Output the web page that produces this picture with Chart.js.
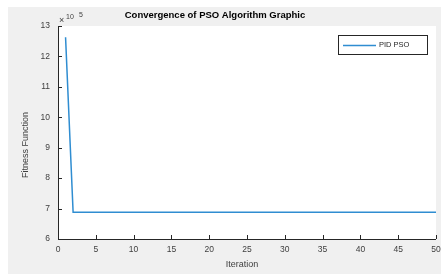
<!DOCTYPE html>
<html>
<head>
<meta charset="utf-8">
<script src="https://cdn.jsdelivr.net/npm/chart.js@4"></script>
<style>
  html, body { margin: 0; padding: 0; background: #fff; }
  #wrap { width: 448px; height: 274px; position: relative; }
</style>
</head>
<body>
<div id="wrap"><canvas id="chart" width="448" height="274"></canvas></div>
<script>
// ---- Data ----
const iterations = [1, 2, 3, 4, 5, 10, 15, 20, 25, 30, 35, 40, 45, 50];
const fitness = [1263000, 688000, 688000, 688000, 688000, 688000, 688000, 688000, 688000, 688000, 688000, 688000, 688000, 688000];
const xTicks = [0, 5, 10, 15, 20, 25, 30, 35, 40, 45, 50];
const yTicks = [6, 7, 8, 9, 10, 11, 12, 13];
const yScaleFactor = 1e5;

const FONT = 'Liberation Sans, Arial, Helvetica, sans-serif';
const LINE_COLOR = '#2f8dd1';

// ---- Figure background, axes, ticks, labels, legend ----
const figurePlugin = {
    id: 'figure',
    beforeDraw(chart) {
        const ctx = chart.ctx;
        const a = chart.chartArea;
        ctx.save();
        ctx.fillStyle = '#ffffff';
        ctx.fillRect(0, 0, chart.width, chart.height);
        ctx.fillStyle = '#f0f0f0';
        ctx.fillRect(8, 7, 433, 267);
        ctx.fillStyle = '#ffffff';
        ctx.fillRect(a.left, a.top, a.right - a.left, a.bottom - a.top);
        ctx.restore();
    },
    afterDraw(chart) {
        const ctx = chart.ctx;
        const a = chart.chartArea;
        const xs = chart.scales.x;
        const ys = chart.scales.y;
        ctx.save();
        ctx.strokeStyle = '#262626';
        ctx.lineWidth = 1;
        ctx.beginPath();
        ctx.moveTo(a.left + 0.5, a.top);
        ctx.lineTo(a.left + 0.5, a.bottom + 0.5);
        ctx.lineTo(a.right, a.bottom + 0.5);
        // inward ticks
        xTicks.forEach(v => {
            const px = Math.round(xs.getPixelForValue(v)) + 0.5;
            ctx.moveTo(px, a.bottom);
            ctx.lineTo(px, a.bottom - 4);
        });
        yTicks.forEach(v => {
            const py = Math.round(ys.getPixelForValue(v * yScaleFactor)) + 0.5;
            ctx.moveTo(a.left, py);
            ctx.lineTo(a.left + 4, py);
        });
        ctx.stroke();

        // exponent label
        ctx.fillStyle = '#404040';
        ctx.font = '9px ' + FONT;
        ctx.textBaseline = 'alphabetic';
        ctx.textAlign = 'left';
        ctx.fillText('\u00d7', 59, 23);
        ctx.font = '7px ' + FONT;
        ctx.fillText('10', 66, 19);
        ctx.fillText('5', 79, 17);

        // axis titles
        ctx.font = '9px ' + FONT;
        ctx.textAlign = 'center';
        ctx.textBaseline = 'middle';
        ctx.fillText('Iteration', 242, 265);
        ctx.save();
        ctx.translate(26, 145);
        ctx.rotate(-Math.PI / 2);
        ctx.fillText('Fitness Function', 0, 0);
        ctx.restore();

        // title
        ctx.fillStyle = '#000000';
        ctx.font = 'bold 9.5px ' + FONT;
        ctx.fillText('Convergence of PSO Algorithm Graphic', 215, 15);

        // legend
        ctx.fillStyle = '#ffffff';
        ctx.fillRect(338.5, 35.5, 89, 19);
        ctx.strokeStyle = '#262626';
        ctx.lineWidth = 1;
        ctx.strokeRect(338.5, 35.5, 89, 19);
        ctx.strokeStyle = LINE_COLOR;
        ctx.lineWidth = 1.5;
        ctx.beginPath();
        ctx.moveTo(343, 45.5);
        ctx.lineTo(376, 45.5);
        ctx.stroke();
        ctx.fillStyle = '#262626';
        ctx.font = '7.5px ' + FONT;
        ctx.textAlign = 'left';
        ctx.fillText('PID PSO', 379, 45);
        ctx.restore();
    }
};

new Chart(document.getElementById('chart'), {
    type: 'line',
    data: {
        datasets: [{
            label: 'PID PSO',
            data: iterations.map((x, i) => ({ x: x, y: fitness[i] })),
            borderColor: LINE_COLOR,
            borderWidth: 1.5,
            pointRadius: 0,
            tension: 0,
            fill: false
        }]
    },
    options: {
        responsive: false,
        animation: false,
        devicePixelRatio: 1,
        layout: { padding: { left: 8, right: 12, top: 26, bottom: 0 } },
        plugins: {
            legend: { display: false },
            title: { display: false },
            tooltip: { enabled: false }
        },
        scales: {
            x: {
                type: 'linear',
                min: 0,
                max: 50,
                grid: { display: false, drawTicks: false },
                border: { display: false },
                afterBuildTicks: s => { s.ticks = xTicks.map(v => ({ value: v })); },
                ticks: {
                    color: '#404040',
                    font: { family: FONT, size: 8.5 },
                    padding: 6,
                    maxRotation: 0,
                    autoSkip: false
                },
                afterFit: s => { s.height = 35; }
            },
            y: {
                type: 'linear',
                min: 6 * yScaleFactor,
                max: 13 * yScaleFactor,
                grid: { display: false, drawTicks: false },
                border: { display: false },
                afterBuildTicks: s => { s.ticks = yTicks.map(v => ({ value: v * yScaleFactor })); },
                ticks: {
                    color: '#404040',
                    font: { family: FONT, size: 8.5 },
                    padding: 8,
                    callback: v => String(v / yScaleFactor)
                },
                afterFit: s => { s.width = 50; }
            }
        }
    },
    plugins: [figurePlugin]
});
</script>
</body>
</html>
